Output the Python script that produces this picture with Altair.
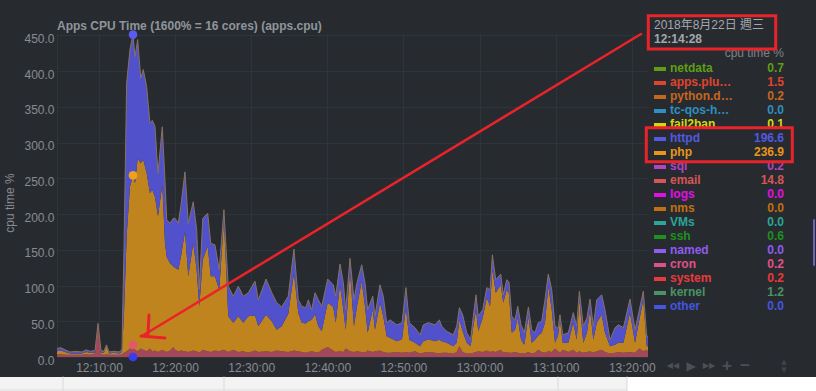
import altair as alt
import pandas as pd

# ---------------- data ----------------
times = [
    "12:04:29", "12:05:00", "12:05:32", "12:06:11", "12:06:59", "12:07:46", "12:08:18", "12:08:49", "12:09:29", "12:09:52",
    "12:10:16", "12:10:39", "12:10:59", "12:11:19", "12:11:58", "12:12:38", "12:13:01", "12:13:17", "12:13:38", "12:14:04",
    "12:14:28", "12:14:44", "12:15:05", "12:15:29", "12:15:49", "12:16:16", "12:16:42", "12:17:00", "12:17:21", "12:17:45",
    "12:18:19", "12:18:40", "12:18:54", "12:19:20", "12:19:46", "12:19:59", "12:20:25", "12:20:46", "12:21:18", "12:21:44",
    "12:22:23", "12:22:50", "12:23:11", "12:23:38", "12:24:17", "12:24:41", "12:25:14", "12:25:48", "12:26:25", "12:26:59",
    "12:27:39", "12:28:18", "12:28:58", "12:29:37", "12:30:30", "12:30:56", "12:31:57", "12:32:42", "12:33:21", "12:34:00",
    "12:34:52", "12:35:37", "12:36:11", "12:36:38", "12:37:10", "12:37:30", "12:37:57", "12:38:23", "12:38:49", "12:39:16",
    "12:40:03", "12:40:47", "12:41:06", "12:41:40", "12:42:06", "12:42:25", "12:42:59", "12:43:30", "12:43:54", "12:44:31",
    "12:44:57", "12:45:18", "12:45:58", "12:46:16", "12:46:55", "12:47:21", "12:47:48", "12:48:14", "12:49:07", "12:49:49",
    "12:50:20", "12:50:46", "12:51:31", "12:52:11", "12:52:37", "12:53:16", "12:54:09", "12:54:43", "12:55:02", "12:55:41",
    "12:56:33", "12:57:00", "12:57:21", "12:57:47", "12:58:19", "12:58:50", "12:59:11", "12:59:32", "12:59:50", "13:00:25",
    "13:00:57", "13:01:23", "13:01:41", "13:02:08", "13:02:47", "13:03:07", "13:03:34", "13:03:52", "13:04:14", "13:04:40",
    "13:05:01", "13:05:27", "13:05:53", "13:06:25", "13:06:51", "13:07:17", "13:07:43", "13:08:10", "13:08:36", "13:09:02",
    "13:09:29", "13:09:55", "13:10:19", "13:10:34", "13:10:56", "13:11:40", "13:12:19", "13:12:46", "13:13:07", "13:13:38",
    "13:14:07", "13:14:31", "13:14:57", "13:15:24", "13:16:03", "13:16:29", "13:17:09", "13:17:48", "13:18:14", "13:18:54",
    "13:19:46", "13:20:26", "13:21:00", "13:21:31", "13:21:58", "13:22:08",
]

email = [
    4, 4, 3, 3, 3, 3, 4, 3, 5, 45,
    4, 3, 4, 3, 3, 3, 4, 6, 8, 12,
    17, 10, 8, 12, 10, 8, 12, 8, 9, 7,
    10, 8, 7, 9, 14, 10, 8, 9, 8, 7,
    9, 8, 6, 10, 8, 7, 9, 8, 10, 7,
    10, 7, 8, 6, 9, 7, 8, 7, 9, 8,
    7, 9, 8, 7, 6, 7, 8, 7, 6, 10,
    14, 9, 7, 8, 7, 12, 8, 7, 8, 7,
    6, 9, 7, 8, 9, 7, 6, 6, 7, 6,
    7, 6, 8, 5, 6, 7, 6, 5, 6, 6,
    5, 7, 15, 7, 5, 5, 6, 7, 8, 7,
    9, 7, 8, 7, 10, 6, 7, 6, 6, 7,
    6, 5, 5, 7, 5, 6, 10, 7, 6, 8,
    7, 12, 8, 6, 10, 7, 10, 6, 8, 6,
    7, 8, 6, 8, 10, 7, 5, 6, 7, 6,
    7, 6, 12, 8, 10, 8,
]

php = [
    4, 5, 4, 2, 2, 2, 3, 3, 1, 1,
    2, 3, 11, 2, 3, 2, 3, 54, 161, 226,
    237, 233, 270, 259, 266, 249, 217, 226, 215, 190,
    231, 152, 133, 122, 113, 115, 114, 131, 168, 106,
    150, 114, 65, 126, 147, 106, 104, 86, 182, 50,
    38, 50, 40, 51, 49, 36, 51, 43, 29, 35,
    53, 108, 54, 41, 41, 43, 44, 53, 37, 26,
    62, 61, 41, 93, 59, 26, 112, 36, 63, 99,
    65, 25, 59, 30, 67, 50, 23, 21, 15, 19,
    62, 18, 12, 10, 16, 18, 16, 19, 16, 14,
    10, 13, 37, 29, 15, 10, 37, 59, 28, 48,
    74, 64, 114, 83, 91, 70, 87, 82, 28, 31,
    49, 19, 12, 50, 15, 18, 20, 27, 42, 91,
    59, 8, 22, 46, 10, 13, 38, 18, 72, 14,
    27, 58, 18, 40, 49, 27, 10, 11, 13, 14,
    55, 14, 40, 72, 5, 7,
]

httpd = [
    4, 4, 3, 2, 3, 2, 3, 2, 3, 1,
    3, 2, 2, 2, 2, 2, 3, 90, 214, 192,
    197, 177, 166, 119, 126, 121, 98, 97, 99, 60,
    81, 88, 52, 56, 67, 69, 65, 72, 83, 74,
    58, 56, 24, 58, 46, 46, 44, 28, 14, 42,
    37, 42, 37, 33, 48, 37, 50, 40, 38, 27,
    25, 34, 18, 23, 22, 30, 14, 30, 37, 35,
    33, 31, 37, 29, 38, 28, 18, 37, 33, 23,
    33, 32, 19, 19, 25, 28, 19, 25, 23, 23,
    28, 24, 21, 16, 23, 23, 23, 28, 21, 16,
    16, 23, 17, 23, 14, 9, 14, 21, 21, 11,
    14, 23, 21, 18, 15, 11, 14, 17, 23, 14,
    16, 21, 17, 13, 18, 10, 18, 16, 32, 17,
    28, 23, 10, 7, 11, 14, 14, 19, 12, 23,
    21, 15, 19, 32, 28, 32, 9, 24, 25, 21,
    19, 18, 14, 12, 14, 14,
]

x_ticks = ["12:10:00", "12:20:00", "12:30:00", "12:40:00", "12:50:00", "13:00:00", "13:10:00", "13:20:00"]
y_ticks = [0, 50, 100, 150, 200, 250, 300, 350, 400, 450]
y_max = 453.2

legend_names = ["netdata", "apps.plu…", "python.d…", "tc-qos-h…", "fail2ban", "httpd", "php", "sql", "email",
                "logs", "nms", "VMs", "ssh", "named", "cron", "system", "kernel", "other"]
legend_values = ["0.7", "1.5", "0.2", "0.0", "0.1", "196.6", "236.9", "0.2", "14.8",
                 "0.0", "0.0", "0.0", "0.6", "0.0", "0.2", "0.2", "1.2", "0.0"]
legend_colors = ["#5f9e14", "#e0442a", "#c8661e", "#2f8fbf", "#d6d60c", "#5558e0", "#e8961a", "#b044c4", "#d65656",
                 "#e010e0", "#c07010", "#2aa596", "#1f8f1f", "#8e5cf0", "#e0508a", "#e83a3a", "#4a9264", "#4455e0"]

title_text = "Apps CPU Time (1600% = 16 cores) (apps.cpu)"
y_title = "cpu time %"
hover_time = "12:14:28"
date_label = "2018年8月22日 週三"
time_label = "12:14:28"
DAY = "2018-08-22 "

# ---------------- build tables ----------------
n = len(times)
if not (len(email) == n and len(php) == n and len(httpd) == n):
    raise SystemExit(f"length mismatch {n} {len(email)} {len(php)} {len(httpd)}")


def ms(t):
    """clock time string -> epoch milliseconds (UTC)"""
    return int(pd.Timestamp(DAY + t, tz="UTC").value // 1_000_000)


series_names = ["email", "php", "httpd"]
series_fill = ["#a3475a", "#c0841f", "#5151cb"]

rows = []
for t, e, p, h in zip(times, email, php, httpd):
    for rank, (name, v) in enumerate(zip(series_names, (e, p, h))):
        rows.append({"time": ms(t), "series": name, "rank": rank, "value": v})
df = pd.DataFrame(rows)
tot = pd.DataFrame({"time": [ms(t) for t in times],
                    "total": [e + p + h for e, p, h in zip(email, php, httpd)]})

hi = times.index(hover_time)
dots = pd.DataFrame({
    "time": [ms(hover_time)] * 4,
    "value": [email[hi] + php[hi], email[hi] + php[hi] + httpd[hi], email[hi], 0],
    "color": ["#f0a01e", "#5a5cf0", "#de5a68", "#3b3bef"],
})

leg = pd.DataFrame({"name": legend_names, "val": legend_values, "col": legend_colors})
leg["i"] = list(range(len(leg)))

FONT = "Liberation Sans"
CJK = "Liberation Sans, Noto Sans CJK TC"
GRID = "#2c3539"
LABEL = "#878c92"
RED = "#e9232a"

x_scale = alt.Scale(type="utc", domain=[ms(times[0]), ms(times[-1])], nice=False)
y_scale = alt.Scale(domain=[0, y_max], nice=False)

x_axis = alt.Axis(values=[ms(t) for t in x_ticks], labelExpr="utcFormat(datum.value, '%H:%M:%S')", grid=True,
                  gridColor=GRID, domain=False, ticks=False, labelColor=LABEL, labelFont=FONT,
                  labelFontSize=12, labelPadding=5, labelFlush=False, labelOverlap=False, title=None)
y_axis = alt.Axis(values=y_ticks, format=".1f", grid=True, gridColor=GRID, domain=True, domainColor=GRID,
                  ticks=False, labelColor=LABEL, labelFont=FONT, labelFontSize=12, labelPadding=3,
                  labelOffset=3, title=None)

area = alt.Chart(df).mark_area(interpolate="linear", opacity=1).encode(
    x=alt.X("time:T", scale=x_scale, axis=x_axis),
    y=alt.Y("value:Q", stack="zero", scale=y_scale, axis=y_axis),
    color=alt.Color("series:N", scale=alt.Scale(domain=series_names, range=series_fill), legend=None),
    order=alt.Order("rank:Q"),
)

outline = alt.Chart(tot).mark_line(color="#86725e", strokeWidth=1).encode(
    x=alt.X("time:T", scale=x_scale, axis=x_axis),
    y=alt.Y("total:Q", scale=y_scale, axis=None),
)

dot_layer = alt.Chart(dots).mark_circle(size=75, opacity=1).encode(
    x=alt.X("time:T", scale=x_scale, axis=x_axis),
    y=alt.Y("value:Q", scale=y_scale, axis=None),
    color=alt.Color("color:N", scale=None),
)

lb = alt.Chart(leg).transform_calculate(py="35 + datum.i * 14", sy="36 + datum.i * 14")
swatch = lb.mark_rule(strokeWidth=4).encode(
    x=alt.value(597), x2=alt.value(609),
    y=alt.Y("sy:Q", scale=None, axis=None),
    color=alt.Color("col:N", scale=None),
)
names = lb.mark_text(align="left", baseline="middle", font=FONT, fontSize=12, fontWeight="bold").encode(
    x=alt.value(613), y=alt.Y("py:Q", scale=None, axis=None),
    text="name:N", color=alt.Color("col:N", scale=None),
)
vals = lb.mark_text(align="right", baseline="middle", font=FONT, fontSize=12, fontWeight="bold").encode(
    x=alt.value(727), y=alt.Y("py:Q", scale=None, axis=None),
    text="val:N", color=alt.Color("col:N", scale=None),
)

one = pd.DataFrame({"k": [0]})


def label(text, x, y, **kw):
    kw.setdefault("font", FONT)
    return alt.Chart(one).mark_text(text=text, **kw).encode(x=alt.value(x), y=alt.value(y))


def seg(x1, y1, x2, y2, color, width):
    return alt.Chart(one).mark_rule(color=color, strokeWidth=width, strokeCap="round").encode(
        x=alt.value(x1), y=alt.value(y1), x2=alt.value(x2), y2=alt.value(y2))


def box(x1, y1, x2, y2, **kw):
    return alt.Chart(one).mark_rect(**kw).encode(
        x=alt.value(x1), y=alt.value(y1), x2=alt.value(x2), y2=alt.value(y2))


texts = [
    label(title_text, 0, -7, align="left", baseline="middle", fontSize=12, fontWeight="bold", color="#8f959b"),
    label(y_title, -47, 170, angle=270, align="center", baseline="middle", fontSize=12, color=LABEL),
    label(date_label, 597, -8, align="left", baseline="middle", fontSize=12, color="#a3a8ad", font=CJK),
    label(time_label, 597, 6, align="left", baseline="middle", fontSize=12, fontWeight="bold", color="#a3a8ad"),
    label("cpu time %", 727, 20, align="right", baseline="middle", fontSize=12, color="#7d8288"),
]

toolbar_color = "#4b5057"
toolbar = [
    label("◀◀", 616, 333, align="center", baseline="middle", fontSize=8, color=toolbar_color, font="DejaVu Sans"),
    label("▶", 634, 333, align="center", baseline="middle", fontSize=12, color=toolbar_color, font="DejaVu Sans"),
    label("▶▶", 652, 333, align="center", baseline="middle", fontSize=8, color=toolbar_color, font="DejaVu Sans"),
    label("+", 670, 333, align="center", baseline="middle", fontSize=17, fontWeight="bold", color=toolbar_color),
    label("−", 688, 333, align="center", baseline="middle", fontSize=17, fontWeight="bold", color=toolbar_color),
    label("▲", 727, 329, align="center", baseline="middle", fontSize=7, color="#3f444a", font="DejaVu Sans"),
    label("▼", 727, 337, align="center", baseline="middle", fontSize=7, color="#3f444a", font="DejaVu Sans"),
    seg(757, 187, 757, 232, "#6f63b5", 2),
]

band = [
    box(-57, 344, 570, 358, fill="#f3f3f3"),
    box(570, 344, 759, 358, fill="#ffffff"),
    seg(6, 344, 6, 358, "#d9d9d9", 1),
    seg(167, 344, 167, 358, "#d9d9d9", 1),
    seg(501, 344, 501, 358, "#d9d9d9", 1),
    seg(570, 344, 570, 358, "#d9d9d9", 1),
    seg(-57, 357, 570, 357, "#dddddd", 1),
]

annotations = [
    box(591.3, -17.3, 718.7, 16, fill="transparent", stroke=RED, strokeWidth=3),
    box(589.3, 94.7, 735.3, 128.7, fill="transparent", stroke=RED, strokeWidth=3),
    seg(584, 1, 85, 303, RED, 2.5),
    seg(92, 282, 91, 301, RED, 3),
    seg(84, 303, 108, 305, RED, 3),
]

chart = alt.layer(
    area, outline, dot_layer, swatch, names, vals, *texts, *band, *toolbar, *annotations
).resolve_scale(y="independent", color="independent").properties(
    width=591, height=324,
    padding={"left": 57, "top": 33, "right": 168, "bottom": 34},
    autosize=alt.AutoSizeParams(type="none"),
    background="#272b30",
).configure_view(stroke=None)

chart.save("out.html", embed_options={"renderer": "svg", "actions": False})
